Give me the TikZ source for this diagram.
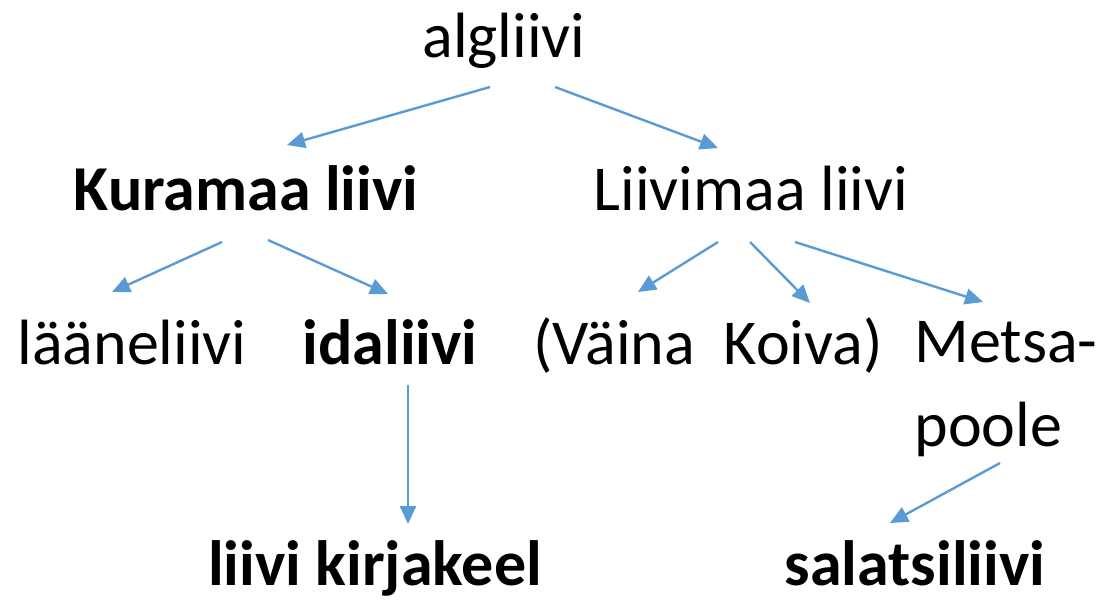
\documentclass[tikz,border=0pt]{standalone}
\usepackage{fontspec}
\setmainfont{Carlito}
\usetikzlibrary{arrows.meta,calc}
\definecolor{arrowblue}{HTML}{5B9BD5}
\begin{document}
\begin{tikzpicture}[x=0.5pt,y=-0.5pt,
  lbl/.style={anchor=base,inner sep=0pt,font=\fontsize{32}{39}\selectfont},
  blbl/.style={lbl,font=\fontsize{32}{39}\selectfont\bfseries},
  arr/.style={draw=arrowblue,line width=1.2pt,-{Triangle[length=9pt,width=8pt]}}]
\useasboundingbox (0,0) rectangle (1102,600);
\node[lbl]  (alg) at (504,57)  {algliivi};
\node[blbl] (kur) at (246,210) {Kuramaa liivi};
\node[lbl]  (liv) at (751,210) {Liivimaa liivi};
\node[lbl]  (lan) at (132,364) {lääneliivi};
\node[blbl] (ida) at (390,364) {idaliivi};
\node[lbl]  (vk)  at (708,364) {(Väina\ \ Koiva)};
\node[lbl,align=left,font=\fontsize{32}{42}\selectfont] (met) at (1006,446) {Metsa-\\poole};
\node[blbl] (kir) at (375,585) {liivi kirjakeel};
\node[blbl] (sal) at (915,585) {salatsiliivi};
\draw[arr] ($(alg.base)+(-14,30)$) -- ($(kur.base)+(41,-65)$);
\draw[arr] ($(alg.base)+(51,30)$) -- ($(liv.base)+(-33,-62)$);
\draw[arr] ($(kur.base)+(-24,32)$) -- ($(lan.base)+(-20,-72)$);
\draw[arr] ($(kur.base)+(22,30)$) -- ($(ida.base)+(-2,-70)$);
\draw[arr] ($(liv.base)+(-33,32)$) -- ($(vk.base)+(-70,-72)$);
\draw[arr] ($(liv.base)+(-1,32)$) -- ($(vk.base)+(102,-61)$);
\draw[arr] ($(liv.base)+(44,32)$) -- ($(met.base)+(-23,-144)$);
\draw[arr] ($(ida.base)+(18,21)$) -- ($(kir.base)+(33,-61)$);
\draw[arr] ($(met.base)+(-6,17)$) -- ($(sal.base)+(-25,-62)$);
\end{tikzpicture}
\end{document}
